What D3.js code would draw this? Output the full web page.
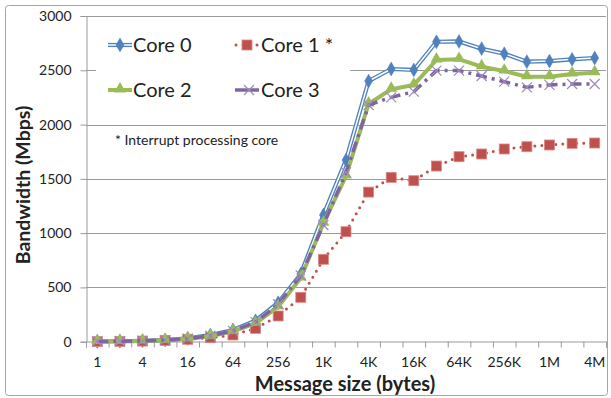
<!DOCTYPE html>
<html>
<head>
<meta charset="utf-8">
<script src="https://cdn.jsdelivr.net/npm/d3@7"></script>
<style>
  body { margin: 0; background: #fff; }
  svg text { font-family: Lato, "Open Sans", sans-serif; fill: #222; }
</style>
</head>
<body>
<div class="chart"></div>
<script>
// message sizes 1 .. 4M, one category per power of two
var sizes = ["1","2","4","8","16","32","64","128","256","512","1K","2K","4K","8K",
             "16K","32K","64K","128K","256K","512K","1M","2M","4M"];
var shownLabels = ["1","4","16","64","256","1K","4K","16K","64K","256K","1M","4M"];

var core0 = [2, 4, 8, 15, 30, 62, 108, 193, 359, 623, 1167, 1673, 2401, 2512, 2503, 2763, 2766, 2699, 2653, 2579, 2585, 2601, 2613];
var core1 = [1, 3, 6, 12, 22, 37, 62, 123, 237, 409, 759, 1013, 1378, 1514, 1483, 1618, 1704, 1729, 1775, 1796, 1812, 1827, 1830];
var core2 = [2, 4, 7, 14, 27, 50, 95, 169, 322, 587, 1090, 1526, 2190, 2325, 2365, 2595, 2601, 2533, 2493, 2441, 2441, 2466, 2478];
var core3 = [2, 4, 8, 15, 28, 55, 100, 180, 345, 610, 1075, 1560, 2180, 2251, 2303, 2497, 2497, 2447, 2395, 2343, 2365, 2374, 2374];

var seriesNames = ["Core 0", "Core 1 *", "Core 2", "Core 3"];
var yTicks = [0, 500, 1000, 1500, 2000, 2500, 3000];

var width = 611;
var height = 398;

var svg = d3.select('.chart').append('svg')
            .attr('width', width)
            .attr('height', height);

// outer chart border
svg.append('rect')
   .attr('x', 5.5).attr('y', 5.5)
   .attr('width', 602).attr('height', 390)
   .attr('rx', 3)
   .attr('fill', '#fff')
   .attr('stroke', '#a6a6a6');

var x = d3.scaleBand().domain(sizes).range([86, 606]).padding(0);
var xEdge = d3.scaleLinear().domain([0, sizes.length]).range([86, 606]);
var y = d3.scaleLinear().domain([0, 3000]).range([341.7, 16]);

function cx(i) { return x(sizes[i]) + x.bandwidth() / 2; }

// gridlines
svg.append('g').selectAll('line').data(yTicks.slice(1)).enter().append('line')
   .attr('x1', 86).attr('x2', 606)
   .attr('y1', function(d){ return Math.round(y(d)) + 0.5; })
   .attr('y2', function(d){ return Math.round(y(d)) + 0.5; })
   .attr('stroke', '#9a9a9a');

// y axis
var yAxis = d3.axisLeft(y).tickValues(yTicks).tickSize(6).tickPadding(9).tickFormat(d3.format('d'));
var yg = svg.append('g').attr('transform', 'translate(86.5,0)').call(yAxis);
yg.select('.domain').attr('stroke', '#9a9a9a');
yg.selectAll('.tick line').attr('stroke', '#9a9a9a');
yg.selectAll('.tick text').style('font-size', '14px').style('fill', '#222');

// x axis: ticks between categories, labels every other category
var xTickAxis = d3.axisBottom(xEdge).tickValues(d3.range(sizes.length + 1)).tickSize(6).tickFormat('');
var xg = svg.append('g').attr('transform', 'translate(0,341.5)').call(xTickAxis);
xg.select('.domain').attr('stroke', '#9a9a9a');
xg.selectAll('.tick line').attr('stroke', '#9a9a9a');

var xLabelAxis = d3.axisBottom(x).tickValues(shownLabels).tickSize(0).tickPadding(16);
var xl = svg.append('g').attr('transform', 'translate(0,341.5)').call(xLabelAxis);
xl.select('.domain').remove();
xl.selectAll('.tick text').style('font-size', '14px').style('fill', '#222');

// axis titles
svg.append('text')
   .attr('x', 345).attr('y', 391)
   .attr('text-anchor', 'middle')
   .style('font-size', '20px').style('font-weight', 'bold')
   .text('Message size (bytes)');

svg.append('text')
   .attr('transform', 'translate(30,185) rotate(-90)')
   .attr('text-anchor', 'middle')
   .style('font-size', '19.5px').style('font-weight', 'bold')
   .text('Bandwidth (Mbps)');

// legend background hides part of the 2500 gridline
svg.append('rect')
   .attr('x', 96).attr('y', 24)
   .attr('width', 254).attr('height', 86)
   .attr('fill', '#fff');

var line = d3.line()
   .x(function(d, i){ return cx(i); })
   .y(function(d){ return y(d); });

var blue = '#4F81BD', red = '#C0504D', green = '#9BBB59', purple = '#8064A2';

function diamond(g, px, py) {
  g.append('path')
   .attr('d', d3.symbol().type(d3.symbolDiamond).size(55)())
   .attr('transform', 'translate(' + px + ',' + py + ')')
   .attr('fill', blue).attr('stroke', blue).attr('stroke-width', 0.5);
}
function square(g, px, py) {
  g.append('rect')
   .attr('x', px - 5).attr('y', py - 5)
   .attr('width', 10).attr('height', 10)
   .attr('fill', red).attr('stroke', '#d88a88').attr('stroke-width', 0.8);
}
function triangle(g, px, py) {
  g.append('path')
   .attr('d', d3.symbol().type(d3.symbolTriangle).size(62)())
   .attr('transform', 'translate(' + px + ',' + (py - 1) + ')')
   .attr('fill', green);
}
function cross(g, px, py) {
  g.append('path')
   .attr('d', 'M' + (px - 5) + ',' + (py - 5) + 'L' + (px + 5) + ',' + (py + 5) +
              'M' + (px - 5) + ',' + (py + 5) + 'L' + (px + 5) + ',' + (py - 5))
   .attr('stroke', '#9d8bbd').attr('stroke-width', 1.2).attr('fill', 'none');
}

var plot = svg.append('g');

// Core 0: double blue line with diamonds
plot.append('path').attr('d', line(core0)).attr('fill', 'none')
    .attr('stroke', blue).attr('stroke-width', 4.2).attr('stroke-linejoin', 'round');
plot.append('path').attr('d', line(core0)).attr('fill', 'none')
    .attr('stroke', '#fff').attr('stroke-width', 1.5).attr('stroke-linejoin', 'round');
core0.forEach(function(d, i){ diamond(plot, cx(i), y(d)); });

// Core 1: red dotted line with squares
plot.append('path').attr('d', line(core1)).attr('fill', 'none')
    .attr('stroke', red).attr('stroke-width', 3).attr('stroke-linecap', 'round')
    .style('stroke-dasharray', '0,7');
core1.forEach(function(d, i){ square(plot, cx(i), y(d)); });

// Core 2: thick green line with triangles
plot.append('path').attr('d', line(core2)).attr('fill', 'none')
    .attr('stroke', green).attr('stroke-width', 4).attr('stroke-linejoin', 'round');
core2.forEach(function(d, i){ triangle(plot, cx(i), y(d)); });

// Core 3: purple dash-dot line with crosses
plot.append('path').attr('d', line(core3)).attr('fill', 'none')
    .attr('stroke', purple).attr('stroke-width', 3.5)
    .style('stroke-dasharray', '11,5,3,5');
core3.forEach(function(d, i){ cross(plot, cx(i), y(d)); });

// legend
var legend = svg.append('g');
var items = [
  {name: seriesNames[0], x0: 108, y0: 45, k: 0},
  {name: seriesNames[1], x0: 235, y0: 45, k: 1},
  {name: seriesNames[2], x0: 108, y0: 90, k: 2},
  {name: seriesNames[3], x0: 235, y0: 90, k: 3}
];
items.forEach(function(it) {
  var x1 = it.x0, x2 = it.x0 + 24, mid = it.x0 + 12, yy = it.y0;
  if (it.k === 0) {
    legend.append('line').attr('x1', x1).attr('x2', x2).attr('y1', yy).attr('y2', yy)
          .attr('stroke', blue).attr('stroke-width', 4.2);
    legend.append('line').attr('x1', x1).attr('x2', x2).attr('y1', yy).attr('y2', yy)
          .attr('stroke', '#fff').attr('stroke-width', 1.5);
    diamond(legend, mid, yy);
  } else if (it.k === 1) {
    legend.append('line').attr('x1', x1 + 1).attr('x2', x2).attr('y1', yy).attr('y2', yy)
          .attr('stroke', red).attr('stroke-width', 3).attr('stroke-linecap', 'round')
          .style('stroke-dasharray', '0,7');
    square(legend, mid, yy);
  } else if (it.k === 2) {
    legend.append('line').attr('x1', x1).attr('x2', x2).attr('y1', yy).attr('y2', yy)
          .attr('stroke', green).attr('stroke-width', 4);
    triangle(legend, mid, yy);
  } else {
    legend.append('line').attr('x1', x1).attr('x2', x2).attr('y1', yy).attr('y2', yy)
          .attr('stroke', purple).attr('stroke-width', 3.5);
    cross(legend, mid + 2, yy);
  }
  legend.append('text')
        .attr('x', it.k % 2 === 0 ? x2 + 1 : x2 + 2).attr('y', yy)
        .attr('dy', '0.35em')
        .style('font-size', '20px')
        .text(it.name);
});

svg.append('text')
   .attr('x', 115).attr('y', 140).attr('dy', '0.35em')
   .style('font-size', '14px')
   .text('* Interrupt processing core');
</script>
</body>
</html>
